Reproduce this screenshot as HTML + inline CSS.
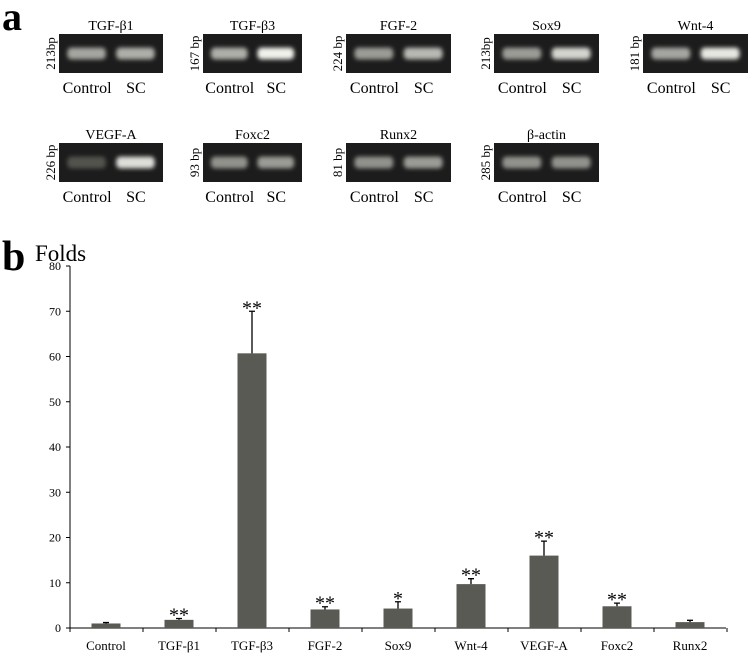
<!DOCTYPE html>
<html><head><meta charset="utf-8"><style>
html,body{margin:0;padding:0;background:#fff;width:753px;height:657px;overflow:hidden}
svg{display:block;font-family:"Liberation Serif",serif}
</style></head><body>
<svg id="fig" width="753" height="657" viewBox="0 0 753 657">
<defs><filter id="blur" x="-30%" y="-100%" width="160%" height="300%"><feGaussianBlur stdDeviation="2.2"/></filter></defs>
<text x="2" y="30" font-size="40" font-weight="bold">a</text>
<text x="2" y="270" font-size="42" font-weight="bold">b</text>
<g id="gels"></g>
<g id="chart"></g>
</svg>
<script>
// Gel panel data
const gelNames=["TGF-β1","TGF-β3","FGF-2","Sox9","Wnt-4","VEGF-A","Foxc2","Runx2","β-actin"];
const gelSizes=["213bp","167 bp","224 bp","213bp","181 bp","226 bp","93 bp","81 bp","285 bp"];
const gelCtrl=[0.55,0.6,0.5,0.5,0.55,0.12,0.45,0.45,0.45];
const gelSC=[0.6,0.95,0.65,0.8,0.9,0.85,0.5,0.5,0.45];
// Chart data
const categories=["Control","TGF-β1","TGF-β3","FGF-2","Sox9","Wnt-4","VEGF-A","Foxc2","Runx2"];
const values=[1,1.8,60.7,4.1,4.3,9.7,16,4.8,1.3];
const errors=[0.2,0.3,9.3,0.6,1.5,1.2,3.2,0.7,0.4];
const stars=["","**","**","**","*","**","**","**",""];
const yTicks=[0,10,20,30,40,50,60,70,80];

const NS="http://www.w3.org/2000/svg";
function mk(tag,attrs,parent,txt){const e=document.createElementNS(NS,tag);for(const k in attrs)e.setAttribute(k,attrs[k]);if(txt!==undefined)e.textContent=txt;parent.appendChild(e);return e;}

const gg=document.getElementById('gels');
const colX=[59,203,346,494,643];
const gelW=[104,99,105,105,105];
gelNames.forEach((n,i)=>{
  const row=i<5?0:1, col=i<5?i:i-5;
  const x=colX[col], w=gelW[col], y=row?143:34, h=39;
  const g=mk('g',{},gg);
  
  
  mk('rect',{x:x,y:y,width:w,height:h,fill:'#1c1c1c'},g);
  const lv=[gelCtrl[i],gelSC[i]];
  lv.forEach((v,j)=>{
    const c=Math.round(60+v*190);
    mk('rect',{x:x+w*(j?0.55:0.08),y:y+h*0.35,width:w*0.37,height:h*0.3,rx:4,fill:`rgb(${c},${c},${c-5})`,filter:'url(#blur)'},g);
  });
  const t=mk('text',{x:x+w/2,y:y-4,'font-size':14,'text-anchor':'middle'},g,n);
  
  
  const s=mk('text',{x:0,y:0,'font-size':13,'text-anchor':'middle',transform:`translate(${x-4},${y+h/2}) rotate(-90)`},g,gelSizes[i]);
  
  
  const l1=mk('text',{x:x+w*0.27,y:y+h+20,'font-size':16,'text-anchor':'middle'},g,'Control');
  
  
  const l2=mk('text',{x:x+w*0.74,y:y+h+20,'font-size':16,'text-anchor':'middle'},g,'SC');
  
  
});

// chart
const cg=document.getElementById('chart');
const x0=70,x1=726,yZero=628,yTop=266,ymax=80;
const y=v=>yZero-(v/ymax)*(yZero-yTop);
const step=73, first=106, bw=29;
const xc=i=>first+i*step;
const ft=mk('text',{x:35,y:261,'font-size':23},cg,'Folds');


const ya=mk('line',{x1:x0,y1:yTop,x2:x0,y2:yZero,stroke:'#000','stroke-width':1},cg);


const xa=mk('line',{x1:x0,y1:yZero,x2:x1,y2:yZero,stroke:'#000','stroke-width':1},cg);


yTicks.forEach(t=>{
  mk('line',{x1:x0-4,y1:y(t),x2:x0,y2:y(t),stroke:'#000'},cg);
  const lb=mk('text',{x:x0-9,y:y(t)+4,'font-size':12,'text-anchor':'end'},cg,t);
  
  
});
for(let i=0;i<=categories.length;i++){
  const xx=x0+i*step;
  mk('line',{x1:xx,y1:yZero,x2:xx,y2:yZero+4,stroke:'#000'},cg);
}
categories.forEach((c,i)=>{
  const b=mk('rect',{x:xc(i)-bw/2,y:y(values[i]),width:bw,height:yZero-y(values[i]),fill:'#5a5a55'},cg);
  
  
  const top=y(values[i]+errors[i]);
  const e=mk('path',{d:`M${xc(i)} ${y(values[i])}V${top}M${xc(i)-3} ${top}H${xc(i)+3}`,stroke:'#000','stroke-width':1.3,fill:'none'},cg);
  
  
  if(stars[i]){
    const s=mk('text',{x:xc(i),y:top+3,'font-size':20,'text-anchor':'middle'},cg,stars[i]);
    
    
  }
  const l=mk('text',{x:xc(i),y:650,'font-size':13,'text-anchor':'middle'},cg,c);
  
  
});
</script>
</body></html>
